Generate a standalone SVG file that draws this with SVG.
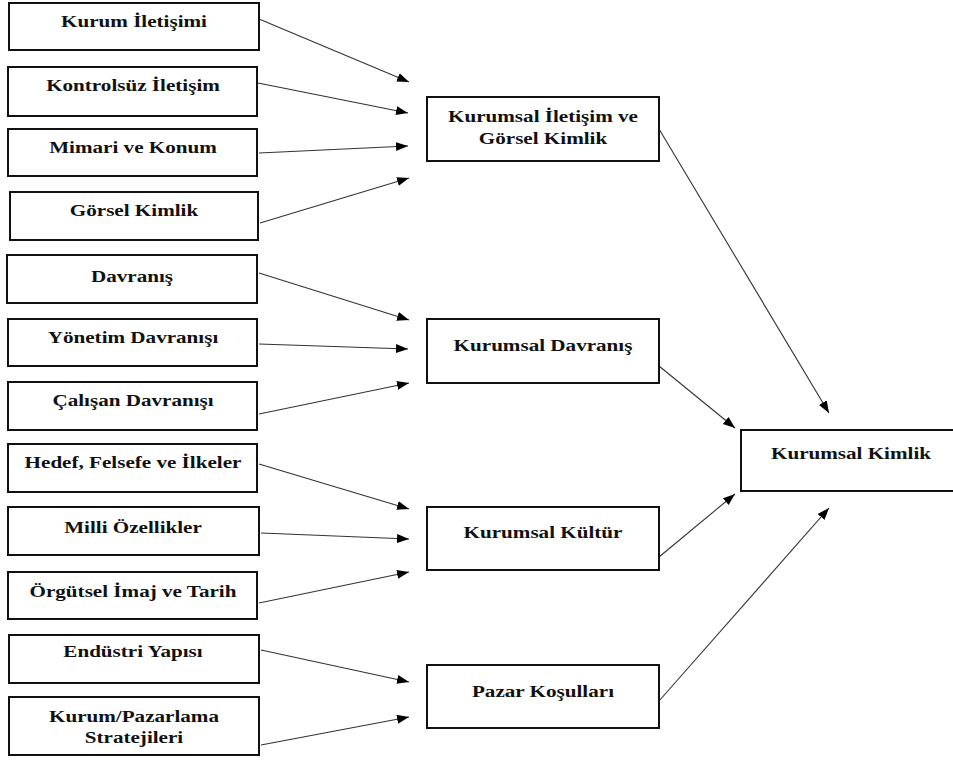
<svg xmlns="http://www.w3.org/2000/svg" width="953" height="761" viewBox="0 0 953 761">
<style>
.box{fill:#fff;stroke:#111;stroke-width:2}
.t{font-family:"Liberation Serif","Times New Roman",serif;font-weight:bold;font-size:16px;fill:#111;text-anchor:middle}
.c{stroke:#333;stroke-width:1.1;fill:none;marker-end:url(#ah)}
</style>
<defs>
<marker id="ah" markerUnits="userSpaceOnUse" markerWidth="12" markerHeight="10" refX="12" refY="4.5" orient="auto">
<path d="M0,0 L12,4.5 L0,9 Z" fill="#000"/>
</marker>
</defs>
<rect width="953" height="761" fill="#fff"/>
<g id="connectors">
<line class="c" x1="259" y1="19" x2="409" y2="82"/>
<line class="c" x1="258" y1="83" x2="408" y2="113"/>
<line class="c" x1="259" y1="153" x2="408" y2="146"/>
<line class="c" x1="260" y1="223" x2="409" y2="178"/>
<line class="c" x1="259" y1="273" x2="409" y2="320"/>
<line class="c" x1="259" y1="344" x2="408" y2="349"/>
<line class="c" x1="259" y1="414" x2="409" y2="383"/>
<line class="c" x1="259" y1="464" x2="409" y2="509"/>
<line class="c" x1="261" y1="533" x2="409" y2="539"/>
<line class="c" x1="259" y1="603" x2="409" y2="572"/>
<line class="c" x1="261" y1="650" x2="409" y2="682"/>
<line class="c" x1="261" y1="745" x2="409" y2="717"/>
<line class="c" x1="659" y1="129" x2="829" y2="413"/>
<line class="c" x1="659" y1="366" x2="735" y2="428"/>
<line class="c" x1="659" y1="557" x2="735" y2="494"/>
<line class="c" x1="659" y1="701" x2="829" y2="508"/>
</g>
<g id="n1"><rect class="box" x="9" y="3" width="250" height="47"/><text class="t" transform="translate(134,27) scale(1.32,1)">Kurum İletişimi</text></g>
<g id="n2"><rect class="box" x="8" y="67" width="249" height="49"/><text class="t" transform="translate(133,91) scale(1.32,1)">Kontrolsüz İletişim</text></g>
<g id="n3"><rect class="box" x="8" y="129" width="249" height="47"/><text class="t" transform="translate(133,153) scale(1.32,1)">Mimari ve Konum</text></g>
<g id="n4"><rect class="box" x="10" y="192" width="248" height="48"/><text class="t" transform="translate(134,216) scale(1.32,1)">Görsel Kimlik</text></g>
<g id="n5"><rect class="box" x="7" y="255" width="250" height="48"/><text class="t" transform="translate(132,282) scale(1.32,1)">Davranış</text></g>
<g id="n6"><rect class="box" x="8" y="319" width="249" height="47"/><text class="t" transform="translate(133,343) scale(1.32,1)">Yönetim Davranışı</text></g>
<g id="n7"><rect class="box" x="8" y="382" width="249" height="48"/><text class="t" transform="translate(133,406) scale(1.32,1)">Çalışan Davranışı</text></g>
<g id="n8"><rect class="box" x="8" y="444" width="249" height="48"/><text class="t" transform="translate(133,468) scale(1.32,1)">Hedef, Felsefe ve İlkeler</text></g>
<g id="n9"><rect class="box" x="8" y="507" width="251" height="48"/><text class="t" transform="translate(133,533) scale(1.32,1)">Milli Özellikler</text></g>
<g id="n10"><rect class="box" x="8" y="572" width="249" height="47"/><text class="t" transform="translate(133,597) scale(1.32,1)">Örgütsel İmaj ve Tarih</text></g>
<g id="n11"><rect class="box" x="9" y="635" width="250" height="48"/><text class="t" transform="translate(133,657) scale(1.32,1)">Endüstri Yapısı</text></g>
<g id="n12"><rect class="box" x="9" y="697" width="250" height="58"/><text class="t" transform="translate(134,722) scale(1.32,1)">Kurum/Pazarlama</text><text class="t" transform="translate(134,743) scale(1.32,1)">Stratejileri</text></g>
<g id="m1"><rect class="box" x="427" y="97" width="232" height="64"/><text class="t" transform="translate(543,122) scale(1.32,1)">Kurumsal İletişim ve</text><text class="t" transform="translate(543,144) scale(1.32,1)">Görsel Kimlik</text></g>
<g id="m2"><rect class="box" x="427" y="319" width="232" height="64"/><text class="t" transform="translate(543,351) scale(1.32,1)">Kurumsal Davranış</text></g>
<g id="m3"><rect class="box" x="427" y="507" width="232" height="63"/><text class="t" transform="translate(543,538) scale(1.32,1)">Kurumsal Kültür</text></g>
<g id="m4"><rect class="box" x="427" y="665" width="232" height="63"/><text class="t" transform="translate(543,697) scale(1.32,1)">Pazar Koşulları</text></g>
<g id="r1"><rect class="box" x="741" y="430" width="230" height="61"/><text class="t" transform="translate(851,459) scale(1.32,1)">Kurumsal Kimlik</text></g>
</svg>
